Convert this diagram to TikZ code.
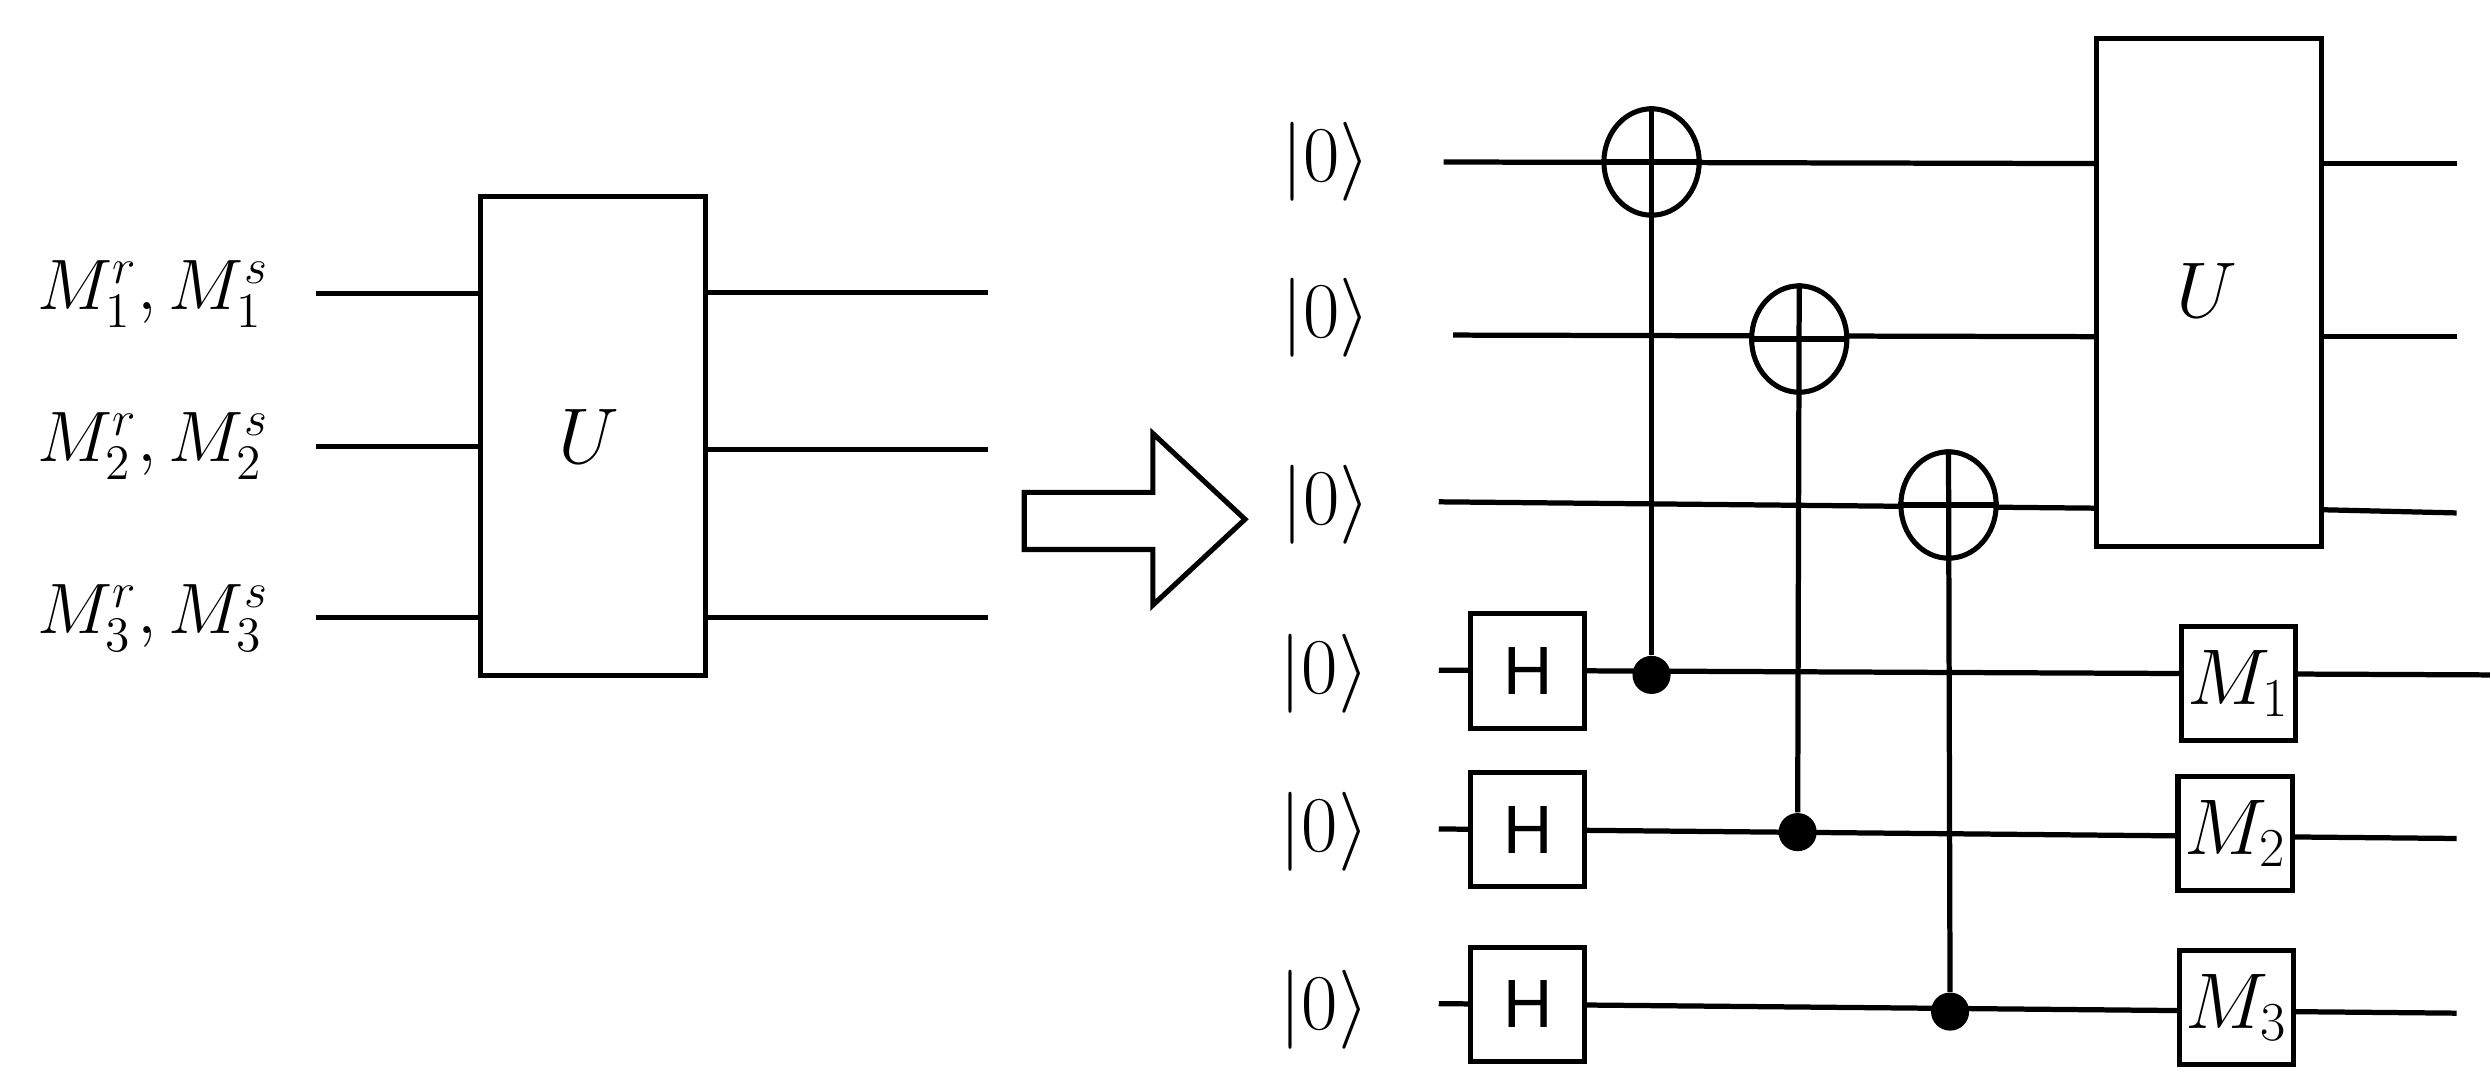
\documentclass[tikz,border=0pt]{standalone}
\usepackage{fontspec}
\setsansfont{Liberation Sans}
\usetikzlibrary{shapes.geometric}
\tikzset{
  wire/.style={line width=1.65pt},
  gatebox/.style={draw,line width=1.6pt,fill=white,inner sep=0pt,minimum width=36pt,minimum height=36pt},
  bigbox/.style={draw,line width=1.6pt,fill=white,inner sep=0pt},
  ctrl/.style={circle,fill=black,inner sep=0pt,minimum size=12pt},
  target/.style={draw,ellipse,line width=1.6pt,fill=white,inner sep=0pt,minimum width=30pt,minimum height=33.5pt},
  ketlabel/.style={inner sep=0pt,font=\fontsize{25.5}{25.5}\selectfont},
  msrlabel/.style={inner sep=0pt,scale=1.085,font=\fontsize{21.7}{21.7}\selectfont},
  boxlabel/.style={inner sep=0pt,font=\fontsize{23.5}{23.5}\selectfont},
  hlabel/.style={font=\sffamily\fontsize{21.5}{21.5}\selectfont},
  ulabel/.style={inner sep=0pt,font=\fontsize{28}{28}\selectfont},
}
\begin{document}
\begin{tikzpicture}[x=0.5pt,y=-0.5pt]
\useasboundingbox (0,0) rectangle (1568,681);
% left block
\node[bigbox,minimum width=71pt,minimum height=151pt] (uleft) at (373.5,274.5) {};
\node[ulabel] (uleftlabel) at (371,275) {$U$};
\foreach \n/\y/\yy in {1/185/184,2/281/283,3/389/389}{
  \node[msrlabel] (la\n) at (96.5,\y) {$M_\n^r,M_\n^s$};
  \coordinate (li\n) at (199,\y);
  \coordinate (lo\n) at (622,\yy);
  \draw[wire] (li\n) -- (303,\y);
  \draw[wire] (445,\yy) -- (lo\n);
}
% arrow
\draw[line width=1.6pt] (645,310) -- (726,310) -- (726,273) -- (784,327) -- (726,381) -- (726,346) -- (645,346) -- cycle;
% right block
\foreach \n/\x/\y in {1/835/102,2/835/200,3/835/318,4/834/424,5/834/524,6/834/636}
  \node[ketlabel] (ket\n) at (\x,\y) {$|0\rangle$};
\coordinate (in1) at (909,102);
\coordinate (in2) at (915,211);
\coordinate (in3) at (906,316);
\coordinate (out1) at (1547,103);
\coordinate (out2) at (1547,212);
\coordinate (out3) at (1547,323);
\node[bigbox,minimum width=71pt,minimum height=160pt] (uright) at (1391,184) {};
\node[ulabel] (urightlabel) at (1390,183) {$U$};
\draw[wire] (in1) -- (1320,103);
\draw[wire] (in2) -- (1320,212);
\draw[wire] (in3) -- (1320,320);
\draw[wire] (1463,103) -- (out1);
\draw[wire] (1463,212) -- (out2);
\draw[wire] (1463,321) -- (out3);
\foreach \n/\y in {4/422,5/522,6/632}{
  \coordinate (qin\n) at (906,\y);
}
\coordinate (qout4) at (1568,425);
\coordinate (qout5) at (1547,528);
\coordinate (qout6) at (1547,638);
\draw[wire] (qin4) -- (qout4);
\draw[wire] (qin5) -- (qout5);
\draw[wire] (qin6) -- (qout6);
\node[gatebox,hlabel] (h1) at (962,422.5) {H\hspace{2pt}};
\node[gatebox,hlabel] (h2) at (962,522.5) {H\hspace{2pt}};
\node[gatebox,hlabel] (h3) at (962,632.5) {H\hspace{2pt}};
\node[gatebox,boxlabel] (m1) at (1409.5,430.5) {$M_1$};
\node[gatebox,boxlabel] (m2) at (1407.5,525) {$M_2$};
\node[gatebox,boxlabel] (m3) at (1408.5,634.5) {$M_3$};
\node[target] (t1) at (1040,102) {};
\node[target] (t2) at (1133,213.5) {};
\node[target] (t3) at (1227,318) {};
\node[ctrl] (c1) at (1040,425) {};
\node[ctrl] (c2) at (1132,524) {};
\node[ctrl] (c3) at (1228,637) {};
\draw[wire] (t1.north) -- (c1);
\draw[wire] (t2.north) -- (c2);
\draw[wire] (t3.north) -- (c3);
\draw[wire] (t1.west) -- (t1.east);
\draw[wire] (t2.west) -- (t2.east);
\draw[wire] (t3.west) -- (t3.east);
\end{tikzpicture}
\end{document}
